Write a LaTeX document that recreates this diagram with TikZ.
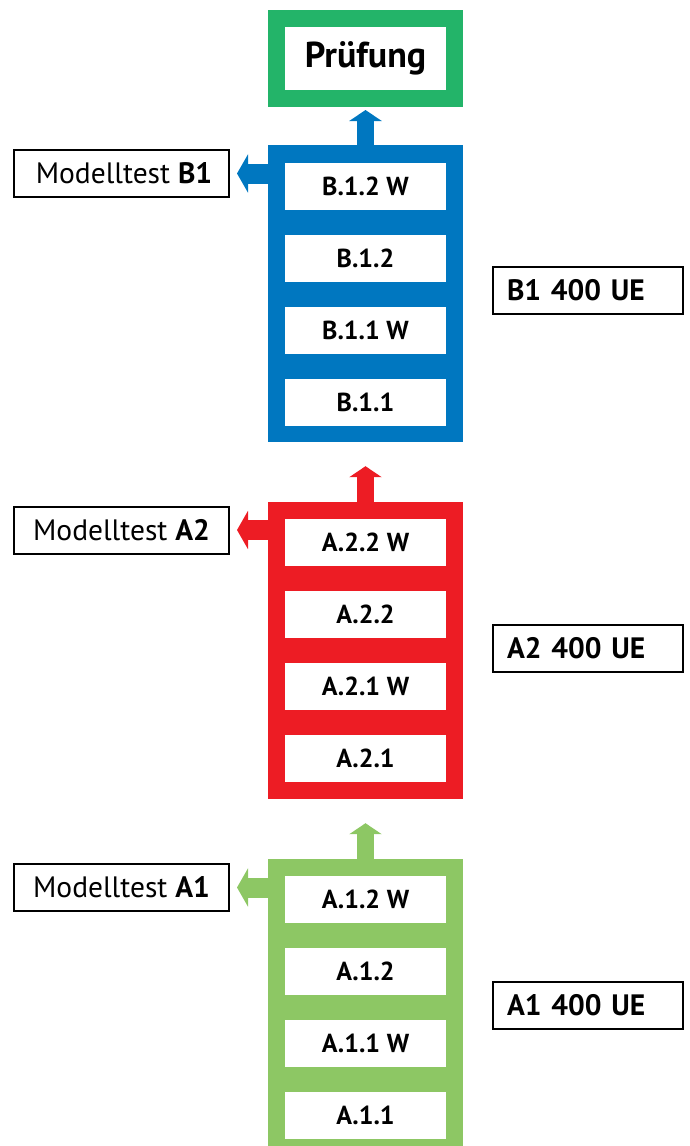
\documentclass[tikz,border=0pt]{standalone}
\usepackage{fontspec}
\setmainfont{PT Sans}
\usetikzlibrary{arrows.meta}
\definecolor{pgreen}{RGB}{35,180,105}
\definecolor{bblue}{RGB}{0,119,192}
\definecolor{ared}{RGB}{237,28,36}
\definecolor{agreen}{RGB}{141,199,100}

\begin{document}
\begin{tikzpicture}[x=1pt,y=-1pt,
  col/.style={fill=#1,minimum width=195pt,minimum height=297pt,inner sep=0pt},
  unit/.style={fill=white,minimum width=161pt,minimum height=47pt,inner sep=0pt,font=\fontsize{26}{26}\selectfont\bfseries},
  lbl/.style={draw=black,line width=2pt,fill=white,minimum width=215pt,minimum height=47pt,inner sep=0pt,font=\fontsize{29.5}{29.5}\selectfont},
  hrs/.style={draw=black,line width=2pt,minimum width=190pt,minimum height=47pt,text width=162pt,inner sep=0pt,align=left,font=\fontsize{29.5}{29.5}\selectfont\bfseries},
  up/.style={draw=#1,line width=17pt,-{Triangle[width=32pt,length=11pt]}},
  side/.style={draw=#1,line width=20pt,-{Triangle[width=38pt,length=11pt]}}]
  \useasboundingbox (0,0) rectangle (690,1146);
  \clip (0,0) rectangle (690,1146);

  \node[draw=pgreen,line width=17pt,minimum width=178pt,minimum height=80pt,font=\fontsize{36}{36}\selectfont\bfseries] (pruef) at (365.5,58.5) {Prüfung};

  \node[col=bblue] (colB) at (365.5,293.5) {};
  \node[unit] (b12w) at (365.5,186.5) {B.1.2 W};
  \node[unit] (b12) at (365.5,258.5) {B.1.2};
  \node[unit] (b11w) at (365.5,330.5) {B.1.1 W};
  \node[unit] (b11) at (365.5,402.5) {B.1.1};
  \node[lbl] (mtB) at (121.5,173.5) {\hspace{5pt}Modelltest \textbf{B1}};
  \node[hrs] (ueB) at (588,290.5) {B1 400 UE};

  \node[col=ared] (colR) at (365.5,650.5) {};
  \node[unit] (a22w) at (365.5,542.5) {A.2.2 W};
  \node[unit] (a22) at (365.5,614.5) {A.2.2};
  \node[unit] (a21w) at (365.5,686.5) {A.2.1 W};
  \node[unit] (a21) at (365.5,758.5) {A.2.1};
  \node[lbl] (mtR) at (121.5,530) {Modelltest \textbf{A2}};
  \node[hrs] (ueR) at (588,648.5) {A2 400 UE};

  \node[col=agreen] (colG) at (365.5,1007.5) {};
  \node[unit] (a12w) at (365.5,899.5) {A.1.2 W};
  \node[unit] (a12) at (365.5,971.5) {A.1.2};
  \node[unit] (a11w) at (365.5,1043.5) {A.1.1 W};
  \node[unit] (a11) at (365.5,1115.5) {A.1.1};
  \node[lbl] (mtG) at (121.5,887.5) {Modelltest \textbf{A1}};
  \node[hrs] (ueG) at (588,1005.5) {A1 400 UE};

  \draw[up=bblue,shorten >=3pt] (colB.north) -- (pruef.south);
  \draw[up=ared,shorten >=24pt] (colR.north) -- (colB.south);
  \draw[up=agreen,shorten >=24pt] (colG.north) -- (colR.south);
  \draw[side=bblue,shorten >=7pt] (colB.west |- mtB.east) -- (mtB.east);
  \draw[side=ared,shorten >=7pt] (colR.west |- mtR.east) -- (mtR.east);
  \draw[side=agreen,shorten >=7pt] (colG.west |- mtG.east) -- (mtG.east);
\end{tikzpicture}
\end{document}
